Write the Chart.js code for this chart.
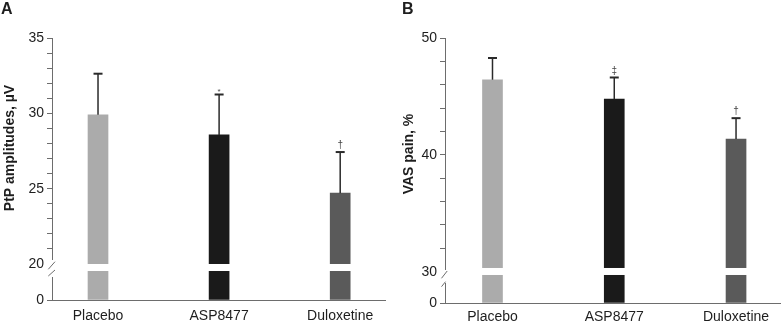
<!DOCTYPE html>
<html><head><meta charset="utf-8">
<script src="https://cdn.jsdelivr.net/npm/chart.js@4.4.0/dist/chart.umd.min.js"></script>
<style>
html,body{margin:0;padding:0;background:#fff;}
#wrap{position:relative;width:781px;height:322px;overflow:hidden;background:#fff;}
.panel{position:absolute;top:0;height:322px;}
#pa{left:0;width:390px;}
#pb{left:390px;width:391px;}
</style></head><body>
<div id="wrap">
<div class="panel" id="pa"><canvas id="ca" width="390" height="322"></canvas></div>
<div class="panel" id="pb"><canvas id="cb" width="391" height="322"></canvas></div>
</div>
<script>
// ---- data ----
const categories = ['Placebo', 'ASP8477', 'Duloxetine'];
const barColors = ['#ababab', '#1a1a1a', '#5a5a5a'];

// Panel A: PtP amplitudes
const ptpMeans = [29.9, 28.57, 24.7];
const ptpErrTop = [32.63, 31.25, 27.43];
const ptpMarks = ['', '*', '\u2020'];
const ptpMajorTicks = [20, 25, 30, 35];

// Panel B: VAS pain
const vasMeans = [46.43, 44.77, 41.35];
const vasErrTop = [48.29, 46.62, 43.14];
const vasMarks = ['', '\u2021', '\u2020'];
const vasMajorTicks = [30, 40, 50];

const axisColor = '#6d6d6d';
const textColor = '#1e1e1e';
const FONT = "'Liberation Sans', Arial, Helvetica, sans-serif";

function buildPanel(canvasId, P) {
  const f = v => v >= P.breakVal ? P.breakDisp + (v - P.breakVal) : v * P.breakDisp / P.breakVal;
  const tickVals = [0], tickLabels = ['0'];
  for (let v = P.breakVal; v <= P.axisMax + 1e-9; v += P.minorStep) {
    tickVals.push(f(v));
    tickLabels.push(P.major.indexOf(v) >= 0 ? String(v) : '');
  }
  const deco = {
    id: 'deco_' + canvasId,
    afterDraw(chart) {
      const ctx = chart.ctx, a = chart.chartArea, xs = chart.scales.x, ys = chart.scales.y;
      const T = ys.getPixelForValue(f(P.breakVal));
      const ax = a.left + 0.5;
      ctx.save();
      // white gap through bars
      ctx.fillStyle = '#ffffff';
      ctx.fillRect(a.left + 2, T + P.gap[0], a.right - a.left - 2, P.gap[1] - P.gap[0]);
      // axis cut
      ctx.fillRect(ax - 6.5, T + P.cut[0], 8.5, P.cut[1] - P.cut[0]);
      ctx.strokeStyle = axisColor; ctx.lineWidth = 1;
      P.slashes.forEach(s => {
        ctx.beginPath(); ctx.moveTo(ax + s[0], T + s[1]); ctx.lineTo(ax + s[2], T + s[3]); ctx.stroke();
      });
      // error bars
      P.means.forEach((m, i) => {
        const xp = xs.getPixelForValue(i);
        const y0 = ys.getPixelForValue(f(m));
        const y1 = ys.getPixelForValue(f(P.errTop[i]));
        ctx.strokeStyle = '#2a2a2a';
        ctx.lineWidth = 1.5;
        ctx.beginPath(); ctx.moveTo(xp, y0); ctx.lineTo(xp, y1); ctx.stroke();
        ctx.lineWidth = 2;
        ctx.beginPath(); ctx.moveTo(xp - 4.5, y1); ctx.lineTo(xp + 4.5, y1); ctx.stroke();
        const mk = P.marks[i];
        if (mk) {
          ctx.fillStyle = '#444';
          ctx.textAlign = 'center';
          ctx.textBaseline = 'alphabetic';
          if (mk === '*') { ctx.font = '8px ' + FONT; ctx.fillText(mk, xp, y1 - 0.5); }
          else { ctx.font = '10px ' + FONT; ctx.fillText(mk, xp, y1 - 3.8); }
        }
      });
      // axis title
      ctx.fillStyle = textColor;
      ctx.font = 'bold 14px ' + FONT;
      ctx.textAlign = 'center'; ctx.textBaseline = 'middle';
      ctx.save();
      ctx.translate(P.titleX, P.titleY); ctx.rotate(-Math.PI / 2);
      ctx.fillText(P.title, 0, 0);
      ctx.restore();
      // panel letter
      ctx.font = 'bold 16px ' + FONT;
      ctx.textAlign = 'left'; ctx.textBaseline = 'top';
      ctx.fillText(P.letter, P.letterX, 2);
      ctx.restore();
    }
  };
  return new Chart(document.getElementById(canvasId), {
    type: 'bar',
    data: {
      datasets: [{
        data: P.means.map((m, i) => ({ x: i, y: f(m) })),
        backgroundColor: barColors,
        borderWidth: 0,
        barThickness: 20
      }]
    },
    options: {
      responsive: false,
      maintainAspectRatio: false,
      animation: false,
      events: [],
      devicePixelRatio: 1,
      layout: { padding: { top: 38, right: P.padRight, left: 0, bottom: 0 } },
      plugins: { legend: { display: false }, tooltip: { enabled: false } },
      scales: {
        x: {
          type: 'linear', min: P.xMin, max: P.xMax, offset: false,
          afterBuildTicks: s => { s.ticks = categories.map((c, i) => ({ value: i })); },
          afterFit: s => { s.height = P.xHeight; },
          ticks: { autoSkip: false, maxRotation: 0, padding: P.xPad, color: textColor,
                   font: { family: FONT, size: 14 }, callback: (v, i) => categories[i] },
          grid: { display: false, drawTicks: false, offset: false },
          border: { display: true, color: axisColor, width: 1 }
        },
        y: {
          type: 'linear', min: 0, max: f(P.axisMax),
          afterBuildTicks: s => { s.ticks = tickVals.map(v => ({ value: v })); },
          afterFit: s => { s.width = P.yWidth; },
          ticks: { autoSkip: false, padding: 3, color: textColor,
                   font: { family: FONT, size: 14 }, callback: (v, i) => tickLabels[i] },
          grid: { display: true, drawOnChartArea: false, drawTicks: true, tickLength: 5,
                  color: axisColor, tickColor: axisColor, lineWidth: 1 },
          border: { display: true, color: axisColor, width: 1 }
        }
      }
    },
    plugins: [deco]
  });
}

buildPanel('ca', {
  means: ptpMeans, errTop: ptpErrTop, marks: ptpMarks, major: ptpMajorTicks,
  breakVal: 20, breakDisp: 2.39, axisMax: 35, minorStep: 1,
  xMin: -0.38, xMax: 2.37, yWidth: 52, xHeight: 22, xPad: 8, padRight: 5,
  gap: [0, 7], cut: [-4, 13],
  slashes: [[-4.2, 5.3, 2.5, -2.3], [-4.2, 12, 2.5, 6]],
  title: 'PtP amplitudes, \u00b5V', titleX: 10, titleY: 148, letter: 'A', letterX: 1
});
buildPanel('cb', {
  means: vasMeans, errTop: vasErrTop, marks: vasMarks, major: vasMajorTicks,
  breakVal: 30, breakDisp: 2.68, axisMax: 50, minorStep: 2,
  xMin: -0.39, xMax: 2.361, yWidth: 55, xHeight: 19, xPad: 6, padRight: 1,
  gap: [-3.7, 3.3], cut: [-1.7, 11.3],
  slashes: [[-4, 6.6, 1.7, -0.7], [-4, 15, 0, 10]],
  title: 'VAS pain, %', titleX: 19, titleY: 154, letter: 'B', letterX: 12
});
</script>
</body></html>
